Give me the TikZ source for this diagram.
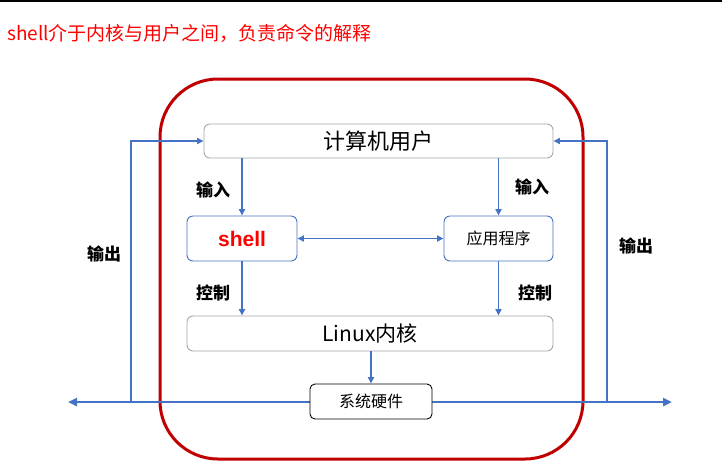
\documentclass[tikz,border=0pt]{standalone}
\usepackage{fontspec}
\setmainfont{Noto Sans CJK SC}
\newfontfamily\arialb{Liberation Sans}
\usetikzlibrary{arrows.meta}
\definecolor{lblue}{HTML}{4472C4}
\definecolor{dred}{HTML}{C00000}
\definecolor{bgray}{HTML}{A6A6A6}
\tikzset{
  box/.style={draw, rounded corners=6pt, line width=0.9pt, fill=white, inner sep=0pt, align=center},
  tip/.style={Triangle[length=6.5pt,width=6pt]},
  conn/.style={draw=lblue, line width=1.8pt, -{Triangle[length=6.5pt,width=6pt]}},
  lbl/.style={font=\fontsize{17}{19}\selectfont\bfseries, inner sep=0pt},
  lbln/.style={font=\fontsize{17}{19}\selectfont\bfseries, inner sep=0pt}
}
\begin{document}
\begin{tikzpicture}[x=1pt,y=-1pt]
\useasboundingbox (0,0) rectangle (722,475);
\fill[white] (0,0) rectangle (722,475);
\draw[line width=2pt] (0,1) -- (722,1);
\node[anchor=west, text=red, inner sep=0pt, font=\fontsize{19}{21}\selectfont] (title) at (7,33) {shell介于内核与用户之间，负责命令的解释};
\draw[dred, line width=3pt, rounded corners=58pt] (160,79) rectangle (583,459);
% nodes
\node[box, draw=bgray, minimum width=349pt, minimum height=34pt, font=\fontsize{22}{24}\selectfont] (user) at (378.5,141) {计算机用户};
\node[box, draw=lblue, minimum width=110pt, minimum height=45pt, text=red, font=\fontsize{21}{23}\arialb\bfseries] (shell) at (242,238.5) {shell};
\node[box, draw=lblue, minimum width=109pt, minimum height=45pt, font=\fontsize{16}{18}\selectfont] (app) at (498.5,238.5) {应用程序};
\node[box, draw=bgray, minimum width=366pt, minimum height=35pt, font=\fontsize{21}{23}\selectfont] (kernel) at (370,333.5) {Linux内核};
\coordinate (L) at (68,402);
\coordinate (R) at (672,402);
\coordinate (LB) at (131,402);
\coordinate (RB) at (607,402);
\coordinate (LT) at (131,141);
\coordinate (RT) at (607,141);
% bottom bus
\draw[conn, line width=2.6pt, -{Triangle[length=9pt,width=8pt]}] (371,402) -- (L);
\draw[conn, line width=2.6pt, -{Triangle[length=9pt,width=8pt]}] (371,402) -- (R);
\node[box, draw=black, rounded corners=5pt, minimum width=122pt, minimum height=35pt, font=\fontsize{16}{18}\selectfont] (hw) at (371,401.5) {系统硬件};
% output loops
\draw[conn] (LB) -- (LT) -- (user.west);
\draw[conn] (RB) -- (RT) -- (user.east);
% inputs
\draw[conn] (shell.north |- user.south) -- (shell.north);
\draw[conn] (app.north |- user.south) -- (app.north);
\draw[conn, {Triangle[length=6.5pt,width=6pt]}-{Triangle[length=6.5pt,width=6pt]}] (shell.east) -- (app.west);
% control
\draw[conn] (shell.south) -- (shell.south |- kernel.north);
\draw[conn] (app.south) -- (app.south |- kernel.north);
\draw[conn] (kernel.south -| hw.north) -- (hw.north);
% labels
\node[lbl] (in1) at (213,190) {输入};
\node[lbl] (in2) at (532,187) {输入};
\node[lbl] (c1) at (213,293) {控制};
\node[lbl] (c2) at (535,293) {控制};
\node[lbln] (o1) at (104,254) {输出};
\node[lbln] (o2) at (636,246) {输出};
\end{tikzpicture}
\end{document}
